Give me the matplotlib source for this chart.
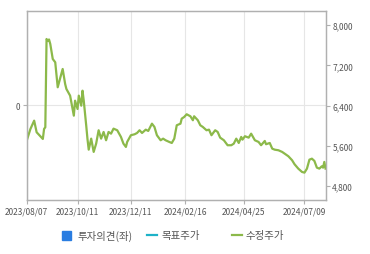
import numpy as np
import matplotlib
matplotlib.use("Agg")
import matplotlib.pyplot as plt
from matplotlib.lines import Line2D
from matplotlib.patches import Rectangle

plt.rcParams['font.family'] = ['Noto Sans CJK KR', 'DejaVu Sans']

# trading-day index since 2023/08/07 and adjusted price
day_idx = [0, 3, 6, 8, 10, 13, 14, 15, 16, 17, 18, 19, 21, 23, 25, 29, 31, 32,
           35, 38, 39, 41, 42, 44, 45, 46, 48, 49, 50, 52, 54, 56, 58, 60, 62,
           64, 66, 68, 70, 73, 76, 78, 80, 81, 84, 87, 89, 91, 93, 96, 98, 101,
           103, 105, 108, 110, 112, 115, 117, 119, 121, 124, 125, 127, 129, 132,
           134, 135, 138, 140, 142, 145, 147, 149, 152, 154, 156, 159, 162, 165,
           167, 169, 171, 173, 174, 176, 179, 181, 184, 187, 189, 192, 193, 196,
           198, 200, 203, 206, 208, 211, 214, 216, 219, 222, 224, 226, 228, 230,
           232, 234, 236, 238, 239, 240, 241]
price = [5704, 5937, 6102, 5871, 5818, 5738, 5937, 5971, 7726, 7686, 7716, 7627,
         7328, 7263, 6766, 7130, 6831, 6732, 6599, 6201, 6499, 6334, 6599, 6400,
         6698, 6499, 6002, 5738, 5525, 5744, 5480, 5645, 5911, 5744, 5877, 5712,
         5877, 5843, 5943, 5911, 5778, 5645, 5579, 5678, 5812, 5831, 5857, 5911,
         5857, 5923, 5897, 6042, 5977, 5812, 5712, 5744, 5712, 5678, 5658, 5744,
         6010, 6042, 6142, 6175, 6229, 6189, 6110, 6189, 6110, 6010, 5977, 5911,
         5923, 5812, 5911, 5877, 5764, 5712, 5613, 5613, 5645, 5744, 5658, 5778,
         5724, 5792, 5764, 5843, 5712, 5678, 5613, 5698, 5633, 5658, 5545, 5525,
         5513, 5480, 5446, 5394, 5315, 5235, 5148, 5082, 5068, 5148, 5326, 5346,
         5301, 5167, 5148, 5195, 5167, 5281, 5148]

tick_idx = [0, 41, 84, 128, 175, 224]
tick_labels = ['2023/08/07', '2023/10/11', '2023/12/11', '2024/02/16', '2024/04/25', '2024/07/09']
price_ticks = [4800, 5600, 6400, 7200, 8000]

line_color = '#8cb94a'
spine_color = '#b0b0b0'
text_color = '#555555'

fig = plt.figure(figsize=(3.7, 2.55), dpi=100)
ax = fig.add_axes([0.0722, 0.212, 0.809, 0.741])
ax2 = ax.twinx()

ax2.plot(day_idx, price, color=line_color, lw=1.6)
ax2.set_ylim(4525, 8283)
ax2.set_yticks(price_ticks)
ax2.set_yticklabels([f'{v:,}' for v in price_ticks])

ax.set_xlim(0, 241.4)
ax.set_ylim(-1, 1)
ax.set_yticks([0])
ax.set_xticks(tick_idx)
ax.set_xticklabels(tick_labels)
ax.grid(True, color='#e6e6e6', lw=0.8)
ax.set_axisbelow(True)

for a in (ax, ax2):
    for s in a.spines.values():
        s.set_color(spine_color)
        s.set_linewidth(0.9)
    a.tick_params(colors=spine_color, labelcolor=text_color, labelsize=6,
                  length=3, width=0.8, pad=1.5)

# legend along the bottom
fig.patches.append(Rectangle((62 / 370, 1 - 241 / 255), 9 / 370, 9 / 255,
                             transform=fig.transFigure, color='#2a7de1'))
fig.text(77 / 370, 1 - 236.5 / 255, '투자의견(좌)', fontsize=7.5, color=text_color, va='center')
fig.lines.append(Line2D([147 / 370, 157 / 370], [1 - 236 / 255] * 2,
                        transform=fig.transFigure, color='#1eb2c8', lw=1.6))
fig.text(161 / 370, 1 - 236.5 / 255, '목표주가', fontsize=7.5, color=text_color, va='center')
fig.lines.append(Line2D([232 / 370, 242 / 370], [1 - 236 / 255] * 2,
                        transform=fig.transFigure, color=line_color, lw=1.6))
fig.text(245 / 370, 1 - 236.5 / 255, '수정주가', fontsize=7.5, color=text_color, va='center')

fig.savefig('out.png', dpi=100)
